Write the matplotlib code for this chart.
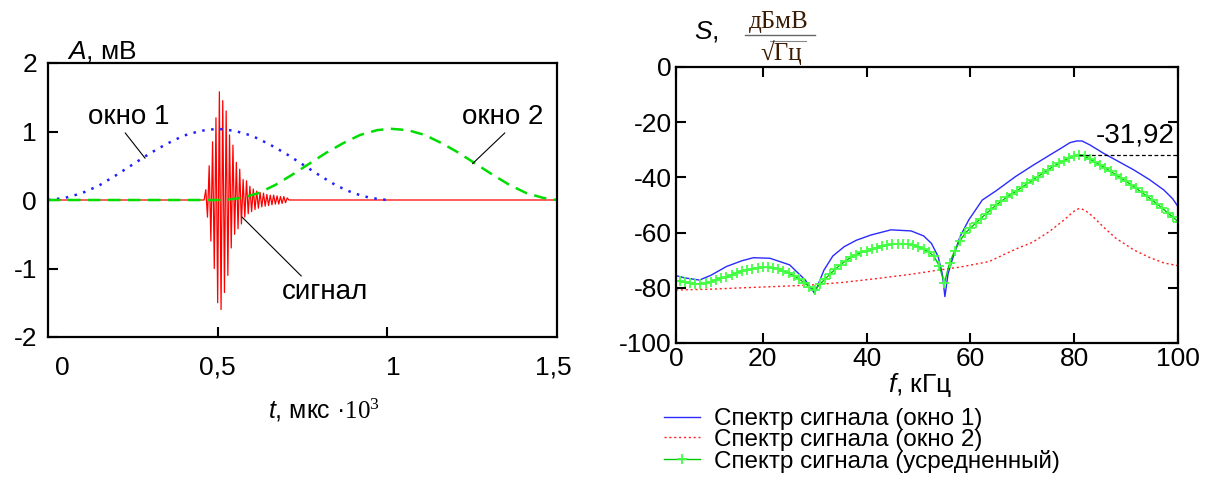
import numpy as np
import matplotlib.pyplot as plt
from matplotlib.lines import Line2D

# --- данные: левый график (сигнал и окна) ---
win1_t = [0, 0.05, 0.1, 0.15, 0.2, 0.25, 0.3, 0.35, 0.4, 0.45, 0.5,
          0.55, 0.6, 0.65, 0.7, 0.75, 0.8, 0.85, 0.9, 0.95, 1.0]
win1_a = [0, 0.03, 0.1, 0.21, 0.36, 0.52, 0.68, 0.82, 0.94, 1.01, 1.04,
          1.01, 0.94, 0.82, 0.68, 0.52, 0.36, 0.21, 0.1, 0.03, 0]

win2_t = [0, 0.52, 0.57, 0.62, 0.67, 0.72, 0.77, 0.82, 0.87, 0.92, 0.97, 1.01,
          1.06, 1.11, 1.16, 1.21, 1.26, 1.31, 1.36, 1.41, 1.46, 1.5]
win2_a = [0, 0, 0.03, 0.1, 0.22, 0.37, 0.53, 0.69, 0.83, 0.95, 1.02, 1.04,
          1.02, 0.95, 0.83, 0.69, 0.53, 0.37, 0.22, 0.1, 0.03, 0]

# пики сигнала (шаг 0.005 начиная с 0.46)
sig_t0 = 0.46
sig_dt = 0.005
sig_peaks = [0, 0.15, -0.25, 0.5, -0.6, 0.85, -1.0, 1.2, -1.5, 1.58, -1.6,
             1.45, -1.35, 1.3, -1.1, 0.95, -0.7, 0.8, -0.5, 0.55, -0.42,
             0.45, -0.35, 0.3, -0.25, 0.28, -0.2, 0.2, -0.17, 0.16, -0.14,
             0.13, -0.12, 0.11, -0.1, 0.1, -0.09, 0.08, -0.08, 0.07, -0.07,
             0.07, -0.06, 0.06, -0.06, 0.05, -0.05, 0.05, -0.04, 0.03, 0]

# --- данные: правый график (спектры) ---
f_avg = list(range(3, 101))
s_avg = [-77.4, -77.7, -78.0, -78.3, -78.5, -78.6, -78.3, -77.8, -77.2, -76.6,
         -76.0, -75.3, -74.6, -74.0, -73.5, -73.1, -72.8, -72.6, -72.6, -72.8,
         -73.2, -73.9, -74.7, -75.6, -76.8, -78.2, -79.6, -80.8, -78.8, -76.8,
         -75.0, -73.2, -71.6, -70.2, -69.0, -68.0, -67.2, -66.6, -66.1, -65.5,
         -65.0, -64.5, -64.2, -64.0, -64.0, -64.2, -64.6, -65.2, -66.0, -67.0,
         -68.6, -72.0, -78.4, -71.0, -66.5, -63.0, -60.2, -58.4, -56.6, -54.9,
         -53.2, -51.6, -50.0, -48.6, -47.2, -46.0, -44.8, -43.5, -42.2, -41.0,
         -39.7, -38.5, -37.2, -36.0, -34.9, -33.9, -33.0, -32.3, -31.92, -32.4,
         -33.3, -34.4, -35.5, -36.6, -37.8, -39.0, -40.2, -41.4, -42.7, -44.0,
         -45.4, -46.8, -48.2, -49.7, -51.2, -52.8, -54.4, -56.0]

f_w1 = [3.3, 5, 7.8, 10, 13, 16, 18.2, 21.4, 25.2, 28.2, 30, 31.8, 33.5, 35.7,
        38, 40.8, 44.7, 48.6, 51, 52.5, 53.8, 54.6, 55.1, 55.7, 56.5, 58, 59.7,
        62.3, 65, 68.7, 72, 75.3, 77.5, 79.2, 80.5, 81.5, 83, 85.6, 88.5, 91.5,
        94.5, 97.3, 99, 100]
s_w1 = [-75.6, -76.4, -77.2, -75.5, -72.3, -70.2, -69.1, -69.3, -71.7, -77.2,
        -82.0, -73.6, -68.5, -65.1, -62.8, -60.9, -59.0, -59.4, -61.2, -63.9,
        -68.7, -75.0, -83.2, -75.0, -69.9, -61.5, -55.4, -48.2, -44.8, -39.7,
        -35.7, -31.9, -29.4, -27.4, -26.8, -26.8, -28.2, -31.2, -34.2, -37.3,
        -40.8, -44.6, -47.8, -50.6]

f_w2 = [3.3, 10, 16.2, 23, 29.2, 35.7, 42.2, 48.6, 53.8, 58, 63.6, 68.7, 72,
        75.3, 78, 80, 81, 82, 83.5, 85.6, 88, 91.5, 94.5, 97.3, 100]
s_w2 = [-80.8, -80.5, -80.0, -79.5, -79.0, -78.0, -76.6, -75.1, -73.6, -72.5,
        -70.5, -66.0, -63.5, -59.5, -55.5, -52.2, -51.2, -51.8, -54.0, -57.9,
        -62.0, -66.3, -69.0, -71.0, -72.0]

left_xticks = [0, 0.5, 1, 1.5]
left_xlabels = ['0', '0,5', '1', '1,5']
left_yticks = [-2, -1, 0, 1, 2]
right_xticks = [3.3, 20, 40, 60, 80, 100]
right_xlabels = ['0', '20', '40', '60', '80', '100']
right_yticks = [0, -20, -40, -60, -80, -100]

plt.rcParams['font.family'] = ['Liberation Sans', 'DejaVu Sans']
plt.rcParams['axes.unicode_minus'] = False
plt.rcParams['mathtext.fontset'] = 'custom'
plt.rcParams['mathtext.it'] = 'Liberation Sans:italic'
plt.rcParams['mathtext.rm'] = 'Liberation Serif'

W, H = 1211, 495
fig = plt.figure(figsize=(W / 100, H / 100), dpi=100)


def fx(px):
    return px / W


def fy(py):
    return 1 - py / H


# ---------- левый график ----------
ax1 = fig.add_axes([fx(48), fy(337), fx(557 - 48), (337 - 63) / H])

sig_t = [0] + [sig_t0 + i * sig_dt for i in range(len(sig_peaks))] + [1.5]
sig_a = [0] + sig_peaks + [0]
ax1.plot(sig_t, sig_a, color='#ff0000', lw=0.9)
ax1.plot(win1_t, win1_a, color='#2020ff', lw=1.8, linestyle=(0, (1, 2.6)))
ax1.plot(win2_t, win2_a, color='#00dd00', lw=1.8, linestyle=(0, (5, 3)))

ax1.set_xlim(0, 1.5)
ax1.set_ylim(-2, 2)
ax1.set_xticks(left_xticks[1:3])
ax1.set_xticklabels(left_xlabels[1:3])
ax1.set_yticks(left_yticks)
ax1.tick_params(direction='in', length=7, width=1.5, labelsize=19, pad=8)
ax1.tick_params(axis='x', labelbottom=False)
for s in ax1.spines.values():
    s.set_linewidth(1.6)
# подписи оси t (смещены как в оригинале)
for t, lab, dx in zip(left_xticks, left_xlabels, [14, 0, 6, -4]):
    fig.text(fx(48 + t * 339.3 + dx), fy(368), lab, ha='center', va='center', fontsize=19)

arrow = dict(arrowstyle='-', color='black', lw=0.8, shrinkA=0, shrinkB=0)
ax1.annotate('окно 1', xy=(0.286, 0.61), xytext=(0.239, 1.21), fontsize=20,
             ha='center', va='center', arrowprops=dict(arrow, relpos=(0.4, 0.1)))
ax1.annotate('окно 2', xy=(1.251, 0.53), xytext=(1.339, 1.21), fontsize=20,
             ha='center', va='center', arrowprops=dict(arrow, relpos=(0.6, 0.1)))
ax1.annotate('сигнал', xy=(0.572, -0.25), xytext=(0.817, -1.34), fontsize=20,
             ha='center', va='center', arrowprops=dict(arrow, relpos=(0.27, 0.95)))

fig.text(fx(67), fy(58), r'$\mathit{A}$, мВ', fontsize=19, va='baseline')
fig.text(fx(324), fy(418), r'$\mathit{t}$, мкс ·$\mathrm{10^3}$', fontsize=18,
         ha='center', va='baseline')

# ---------- правый график ----------
ax2 = fig.add_axes([fx(676), fy(343), fx(1178 - 676), (343 - 67) / H])

l1, = ax2.plot(f_w1, s_w1, color='#2a2aff', lw=1.0)
l2, = ax2.plot(f_w2, s_w2, color='#ff2020', lw=1.0, linestyle=(0, (1.5, 2)))
l3, = ax2.plot(f_avg, s_avg, color='#00c800', lw=1.0, marker='+', ms=7,
               mec='#44ff44', mew=1.3)

i_max = int(np.argmax(s_avg))
ax2.hlines(s_avg[i_max], f_avg[i_max], 100, colors='black', lw=0.9,
           linestyles=(0, (3, 2)))
ax2.text(99.3, -27.2, f'{s_avg[i_max]:.2f}'.replace('.', ','), fontsize=20,
         ha='right', va='baseline')

ax2.set_xlim(3.3, 100)
ax2.set_ylim(-100, 0)
ax2.set_xticks(right_xticks)
ax2.set_xticklabels(right_xlabels)
ax2.set_yticks(right_yticks)
ax2.tick_params(direction='in', length=7, width=1.5, labelsize=19, pad=3,
                top=True, right=True)
for s in ax2.spines.values():
    s.set_linewidth(1.6)

fig.text(fx(920), fy(392), r'$\mathit{f}$, кГц', fontsize=19, ha='center', va='baseline')
fig.text(fx(694), fy(38), r'$\mathit{S}$,', fontsize=19, va='baseline')
serif = ['Liberation Serif', 'DejaVu Serif']
fig.text(fx(779), fy(28), 'дБмВ', fontsize=18, ha='center', va='baseline',
         family=serif, color='#3a1a00')
fig.add_artist(Line2D([fx(745), fx(815)], [fy(35), fy(35)], color='#666666', lw=1.0))
fig.text(fx(781), fy(60), '√Гц', fontsize=18, ha='center', va='baseline',
         family=serif, color='#3a1a00')
fig.add_artist(Line2D([fx(770), fx(806)], [fy(41), fy(41)], color='#888888', lw=0.8))

fig.legend([l1, l2, l3],
           ['Спектр сигнала (окно 1)', 'Спектр сигнала (окно 2)',
            'Спектр сигнала (усредненный)'],
           loc='upper left', bbox_to_anchor=(fx(664), fy(408)), frameon=False,
           fontsize=17.5, handlelength=1.5, handletextpad=0.55, labelspacing=-0.05,
           borderpad=0, borderaxespad=0)

fig.savefig('out.png', dpi=100)
